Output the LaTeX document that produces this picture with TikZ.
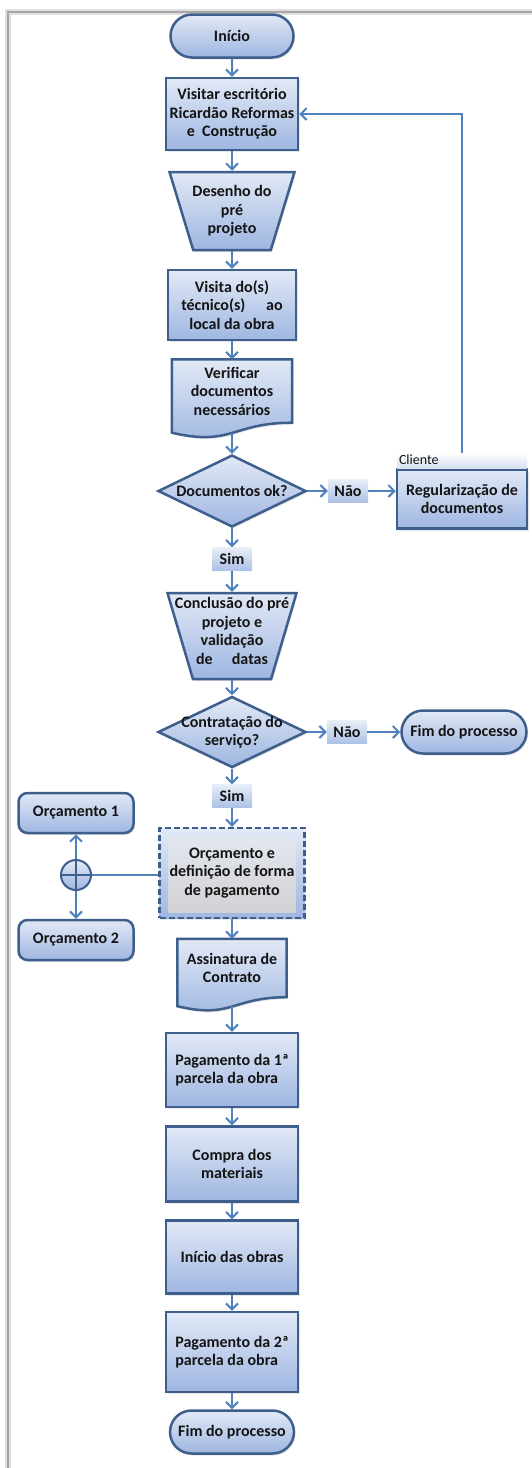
\documentclass[tikz,border=0pt]{standalone}
\usepackage{fontspec}
\setmainfont{Carlito}
\usetikzlibrary{positioning,shapes.geometric,shapes.misc,arrows.meta,calc,backgrounds,shadows}

\definecolor{boxline}{RGB}{62,94,140}
\definecolor{arrowblue}{RGB}{79,129,189}
\definecolor{filltop}{RGB}{226,233,246}
\definecolor{fillbot}{RGB}{158,182,225}
\definecolor{tagtop}{RGB}{232,238,248}
\definecolor{tagbot}{RGB}{172,193,230}
\definecolor{bandbot}{RGB}{214,224,242}
\definecolor{graytop}{RGB}{228,233,242}
\definecolor{graybot}{RGB}{208,208,210}
\definecolor{textdark}{RGB}{20,20,20}

\newcommand{\boxfont}{\fontsize{16pt}{18.5pt}\selectfont\bfseries}

\tikzset{
  flow/.style={draw=arrowblue,line width=2pt,-{Straight Barb[length=6pt,width=12pt]}},
  link/.style={draw=arrowblue,line width=2pt},
  soft/.style={drop shadow={opacity=0.18,shadow xshift=1.5pt,shadow yshift=-2pt}},
  box/.style={rectangle,draw=boxline,line width=2.5pt,top color=filltop,bottom color=fillbot,soft,
    align=center,inner sep=2pt,text=textdark,font=\boxfont},
  term/.style={box,rounded rectangle},
  manop/.style={box,trapezium,shape border rotate=180,trapezium stretches=true,inner sep=3pt},
  decision/.style={box,diamond,inner sep=0pt},
  lbl/.style={align=center,text=textdark,font=\boxfont},
  docnode/.style={rectangle,align=center,inner sep=0pt,text=textdark,font=\boxfont},
  docshape/.style={draw=boxline,line width=2.5pt,top color=filltop,bottom color=fillbot,soft},
  tag/.style={rectangle,top color=tagtop,bottom color=tagbot,minimum width=40pt,minimum height=23pt,
    inner sep=0pt,text=textdark,font=\boxfont},
  band/.style={rectangle,top color=white,bottom color=bandbot,minimum width=130pt,minimum height=14pt,
    text width=126pt,align=left,inner sep=2pt,text height=9pt,text depth=2pt,text=textdark,
    font=\fontsize{14pt}{14pt}\selectfont},
  optbox/.style={box,rounded corners=9pt},
  orcbox/.style={box,dash pattern=on 6pt off 3pt,
    path picture={\shade[top color=graytop,bottom color=graybot]
      ([shift={(9pt,-9pt)}]path picture bounding box.north west) rectangle
      ([shift={(-9pt,6pt)}]path picture bounding box.south east);}},
  junction/.style={circle,draw=boxline,line width=2pt,top color=filltop,bottom color=fillbot,
    minimum size=30pt,inner sep=0pt}
}

\begin{document}
\begin{tikzpicture}[x=1pt,y=-1pt]
\useasboundingbox (0,0) rectangle (532,1468);
% frame
\draw[gray!25,line width=6pt] (8,1470) -- (8,12) -- (534,12);
\draw[gray!70,line width=2.5pt] (8,1470) -- (8,12) -- (534,12);

% main column
\node[term,minimum width=127pt,minimum height=43pt] (inicio) at (232,36) {Início};
\node[box,minimum width=132pt,minimum height=72pt] (visitar) at (232,114) {Visitar escritório\\Ricardão Reformas\\e\ \ Construção};
\node[manop,minimum width=125pt,minimum height=78pt,trapezium angle=73,
  label={[lbl]center:Desenho do\\pré\\projeto}] (desenho) at (232,211) {};
\node[box,minimum width=128pt,minimum height=70pt] (visita) at (232,305) {Visita do(s)\\técnico(s)\hspace{1.3em}ao\\local da obra};
\node[docnode,minimum width=120pt,minimum height=63pt] (verif) at (232,391) {Verificar\\documentos\\necessários};
\node[decision,minimum width=148pt,minimum height=72pt,
  label={[lbl]center:Documentos ok?}] (docok) at (232,491) {};
\node[tag] (nao1) at (348,491) {Não};
\node[box,minimum width=130pt,minimum height=59pt] (regul) at (462,499) {Regularização de\\documentos};
\node[band,above=0pt of regul] (cliente) {Cliente};
\node[tag] (sim1) at (232,559) {Sim};
\node[manop,minimum width=129pt,minimum height=86pt,trapezium angle=72,
  label={[lbl,yshift=5pt]center:Conclusão do pré\\projeto e\\validação\\de\hspace{1.2em}datas}] (concl) at (232,636) {};
\node[decision,minimum width=148pt,minimum height=71pt,
  label={[lbl]center:Contratação do\\serviço?}] (contrat) at (232,732) {};
\node[tag] (nao2) at (347,732) {Não};
\node[term,minimum width=129pt,minimum height=43pt] (fim1) at (464,732) {Fim do processo};
\node[tag] (sim2) at (232,796) {Sim};
\node[orcbox,minimum width=145pt,minimum height=90pt] (orc) at (232,873) {Orçamento e\\definição de forma\\de pagamento};
\node[optbox,minimum width=115pt,minimum height=40pt] (orc1) at (76,813) {Orçamento 1};
\node[optbox,minimum width=115pt,minimum height=40pt] (orc2) at (76,940) {Orçamento 2};
\node[junction] (juncao) at (76,875) {};
\node[docnode,minimum width=109pt,minimum height=58pt] (assin) at (232,968) {Assinatura de\\Contrato};
\node[box,minimum width=132pt,minimum height=74pt,align=left] (pag1) at (232,1070) {Pagamento da 1ª\\parcela da obra};
\node[box,minimum width=132pt,minimum height=75pt] (compra) at (232,1164) {Compra dos\\materiais};
\node[box,minimum width=132pt,minimum height=73pt] (obras) at (232,1257) {Início das obras};
\node[box,minimum width=132pt,minimum height=80pt,align=left] (pag2) at (232,1352) {Pagamento da 2ª\\parcela da obra};
\node[term,minimum width=128pt,minimum height=43pt] (fim2) at (232,1432) {Fim do processo};

% document shapes
\begin{scope}[on background layer]
\shade[docshape] (verif.north west) -- (verif.north east) -- (verif.south east)
  .. controls (verif.south) and ($(verif.south)+(0,-24pt)$) .. ($(verif.south west)+(0,-10pt)$) -- cycle;
\shade[docshape] (assin.north west) -- (assin.north east) -- (assin.south east)
  .. controls (assin.south) and ($(assin.south)+(0,-22pt)$) .. ($(assin.south west)+(0,-9pt)$) -- cycle;
\end{scope}

% connectors
\draw[flow] (inicio) -- (visitar);
\draw[flow] (visitar) -- (desenho);
\draw[flow] (desenho) -- (visita);
\draw[flow] (visita) -- (verif);
\draw[flow] ($(verif.south)+(0,-10pt)$) -- (docok);
\draw[flow] (docok) -- (nao1);
\draw[flow] (nao1.east) -- (nao1.east -| regul.west);
\draw[flow] (cliente.north) |- (visitar.east);
\draw[flow] (docok) -- (sim1);
\draw[flow] (sim1) -- (concl);
\draw[flow] (concl) -- (contrat);
\draw[flow] (contrat) -- (nao2);
\draw[flow] (nao2) -- (fim1);
\draw[flow] (contrat) -- (sim2);
\draw[flow] (sim2) -- (orc);
\draw[flow] (orc) -- (assin);
\draw[flow] ($(assin.south)+(0,-9pt)$) -- (pag1);
\draw[flow] (pag1) -- (compra);
\draw[flow] (compra) -- (obras);
\draw[flow] (obras) -- (pag2);
\draw[flow] (pag2) -- (fim2);

% budget options
\draw[link] (juncao.east) -- (juncao.east -| orc.west);
\draw[flow] (juncao.north) -- (orc1);
\draw[flow] (juncao.south) -- (orc2);
\draw[boxline,line width=1.2pt] (juncao.north) -- (juncao.south) (juncao.west) -- (juncao.east);
\end{tikzpicture}
\end{document}
